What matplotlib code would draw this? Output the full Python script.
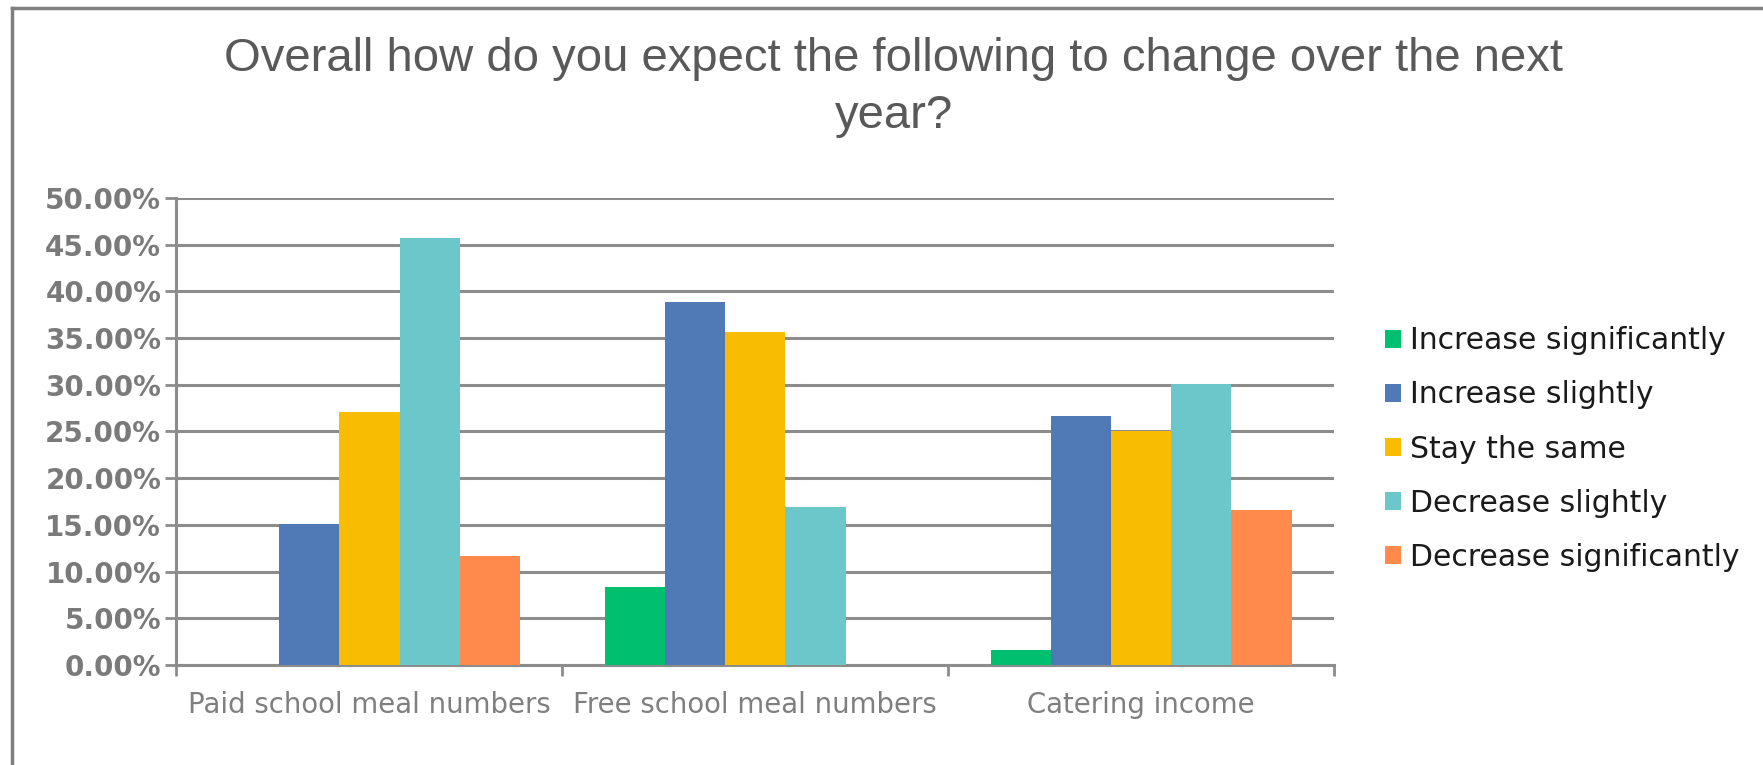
import numpy as np
import matplotlib
matplotlib.use("Agg")
import matplotlib.pyplot as plt
from matplotlib.lines import Line2D

# data
categories = ["Paid school meal numbers", "Free school meal numbers", "Catering income"]
series_names = ["Increase significantly", "Increase slightly", "Stay the same",
                "Decrease slightly", "Decrease significantly"]
increase_sig = [0.0, 8.4, 1.6]
increase_slight = [15.1, 38.9, 26.7]
stay_same = [27.1, 35.6, 25.0]
decrease_slight = [45.7, 16.9, 30.1]
decrease_sig = [11.7, 0.0, 16.6]
colors = ["#00BF6F", "#4F7AB5", "#F8BC00", "#6CC7CB", "#FF8A4C"]
yticks = [0, 5, 10, 15, 20, 25, 30, 35, 40, 45, 50]

fig = plt.figure(figsize=(17.63, 7.65), dpi=100)
ax = fig.add_axes([0.1001, 0.1307, 0.6566, 0.6105])

x = np.arange(len(categories))
width = 0.156
all_series = [increase_sig, increase_slight, stay_same, decrease_slight, decrease_sig]
for i, (name, vals) in enumerate(zip(series_names, all_series)):
    ax.bar(x + (i - 2) * width, vals, width, color=colors[i], label=name, zorder=3)

ax.set_xlim(-0.5, 2.5)
ax.set_ylim(0, 50)
ax.set_yticks(yticks)
ax.set_yticklabels(["%.2f%%" % v for v in yticks], fontsize=20, fontweight="bold",
                   color="#7a7a7a", family="DejaVu Sans")
ax.yaxis.grid(True, color="#8c8c8c", linewidth=2.2, zorder=0)
ax.set_axisbelow(True)

# category labels centred, ticks at the boundaries
ax.set_xticks(x)
ax.set_xticklabels(categories, fontsize=19.8, color="#7f7f7f")
ax.tick_params(axis="x", length=0, pad=19)
ax.set_xticks([-0.5, 0.5, 1.5, 2.5], minor=True)
ax.tick_params(axis="x", which="minor", length=8, width=2, color="#8c8c8c")
ax.tick_params(axis="y", length=8, width=2, color="#8c8c8c", pad=3)

for side in ["top", "right"]:
    ax.spines[side].set_visible(False)
for side in ["left", "bottom"]:
    ax.spines[side].set_color("#8c8c8c")
    ax.spines[side].set_linewidth(2.2)

fig.text(0.507, 0.923, "Overall how do you expect the following to change over the next",
         ha="center", va="center", fontsize=34, color="#595959", family="Liberation Sans")
fig.text(0.507, 0.849, "year?", ha="center", va="center", fontsize=34,
         color="#595959", family="Liberation Sans")

leg = ax.legend(loc="center left", bbox_to_anchor=(1.044, 0.4625), frameon=False,
                fontsize=21.5, handlelength=0.55, handleheight=0.55,
                handletextpad=0.3, labelspacing=0.84, borderpad=0, borderaxespad=0)
for t in leg.get_texts():
    t.set_color("#1a1a1a")

# chart frame (left and top edges visible)
fig.add_artist(Line2D([12 / 1763, 12 / 1763], [0, 1 - 8 / 765], color="#7f7f7f", linewidth=2.5))
fig.add_artist(Line2D([12 / 1763, 1], [1 - 8 / 765, 1 - 8 / 765], color="#7f7f7f", linewidth=2.5))

fig.savefig("out.png", dpi=100, facecolor="white")
